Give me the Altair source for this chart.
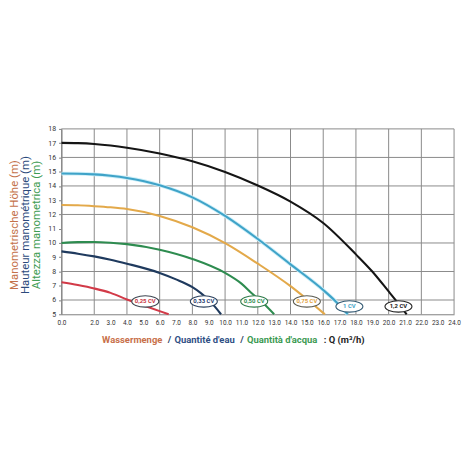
import altair as alt
import pandas as pd

# ---- data ----
series_names = ["0,25 CV", "0,33 CV", "0,50 CV", "0,75 CV", "1 CV", "1,2 CV"]
line_colors = ["#d23a48", "#1f3a5e", "#2e8c50", "#e3a94a", "#3fa3c8", "#151515"]
label_text_colors = ["#c8323f", "#1f3a6e", "#2e8c50", "#e0a040", "#3fa3c8", "#151515"]
label_stroke_colors = ["#3d4550", "#2a3f5c", "#2e7a48", "#5a5a50", "#2f5670", "#202020"]

q_025 = [0.0, 1.0, 2.0, 3.0, 4.0, 5.0, 6.0, 6.55]
h_025 = [7.25, 7.05, 6.81, 6.5, 6.04, 5.63, 5.22, 5.0]

q_033 = [0.0, 1.0, 2.0, 3.0, 4.0, 6.0, 7.0, 8.0, 8.5, 9.0, 9.4, 9.75]
h_033 = [9.41, 9.25, 9.06, 8.83, 8.55, 7.9, 7.45, 6.9, 6.5, 6.0, 5.5, 5.0]

q_050 = [0.0, 1.0, 2.0, 3.0, 4.0, 6.0, 8.0, 10.0, 11.0, 11.7, 12.4, 13.0]
h_050 = [10.0, 10.06, 10.07, 10.02, 9.92, 9.53, 8.88, 7.9, 7.15, 6.4, 5.7, 5.0]

q_075 = [0.0, 1.0, 2.0, 3.0, 4.0, 6.0, 8.0, 10.0, 12.0, 14.0, 15.5, 16.1]
h_075 = [12.66, 12.64, 12.58, 12.5, 12.38, 11.9, 11.1, 9.99, 8.55, 6.97, 5.58, 5.0]

q_1 = [0.0, 1.0, 2.0, 3.0, 4.0, 6.0, 8.0, 10.0, 12.0, 14.0, 16.0, 16.75, 17.5]
h_1 = [14.87, 14.86, 14.81, 14.71, 14.56, 14.05, 13.2, 11.9, 10.28, 8.5, 6.7, 5.92, 5.0]

q_12 = [0.0, 1.0, 2.0, 3.0, 4.0, 6.0, 8.0, 10.0, 12.0, 14.0, 16.0, 18.0, 19.0, 20.0, 20.6, 21.1]
h_12 = [17.02, 17.0, 16.94, 16.83, 16.68, 16.28, 15.73, 14.98, 14.03, 12.9, 11.4, 9.2, 8.0, 6.6,
        5.75, 5.0]

label_q = [5.12, 8.7, 11.78, 15.0, 17.6, 20.6]
label_h = [5.9, 5.9, 5.9, 5.9, 5.55, 5.55]

x_tick_labels = [0, 2, 3, 4, 5, 6, 7, 8, 9, 10, 11, 12, 13, 14, 15, 16, 17, 18,
                 19, 20, 21, 22, 23, 24]
y_tick_labels = list(range(5, 19))
x_grid = list(range(0, 25, 2))
y_grid = list(range(6, 19, 2))

y_titles = ["Manometrische Höhe (m)", "Hauteur manométrique (m)", "Altezza manometrica (m)"]
y_title_colors = ["#c4714a", "#2b4a7c", "#3e9c52"]
x_title_parts = ["Wassermenge", "/", "Quantité d'eau", "/", "Quantità d'acqua", ":", "Q (m³/h)"]
x_title_colors = ["#c8704a", "#2b3f66", "#2f4f85", "#2b3f66", "#3c9a52", "#222222", "#222222"]

# ---- layout (pixels, not data) ----
W, H = 396, 187
FONT = "Roboto"
y_title_x = [-47, -36, -25]

# approximate Roboto glyph widths (em) to lay the multicolour x title out in a row
_cw = {"W": .88, "Q": .69, "a": .54, "s": .5, "e": .53, "r": .34, "m": .88, "n": .55,
       "g": .56, "u": .55, "t": .33, "i": .24, "é": .53, "à": .54, "d": .56, "'": .16,
       "c": .52, "q": .56, "h": .55, "(": .34, ")": .35, "³": .36, "/": .41, ":": .24,
       " ": .25}
XT_SIZE = 9.5
XT_BOLD = 1.06
def _w(s):
    return sum(_cw.get(ch, .55) for ch in s) * XT_SIZE * XT_BOLD
gap = _w(" ")
widths = [_w(s) for s in x_title_parts]
total = sum(widths) + gap * (len(widths) - 1)
start = 236.5 - 62 - total / 2
x_title_starts = []
cur = start
for wd in widths:
    x_title_starts.append(cur)
    cur += wd + gap

curves = [(q_025, h_025), (q_033, h_033), (q_050, h_050),
          (q_075, h_075), (q_1, h_1), (q_12, h_12)]
rows = []
for name, (qs, hs) in zip(series_names, curves):
    for i, (q, h) in enumerate(zip(qs, hs)):
        rows.append({"serie": name, "q": q, "h": h, "i": i})
df_lines = pd.DataFrame(rows)

df_labels = pd.DataFrame({"serie": series_names, "q": label_q, "h": label_h})
df_xg = pd.DataFrame({"q": x_grid})
df_yg = pd.DataFrame({"h": y_grid})

xscale = alt.Scale(domain=[0, 24], nice=False, zero=False)
yscale = alt.Scale(domain=[5, 18], nice=False, zero=False)

x_axis = alt.Axis(values=x_tick_labels, format=".1f", grid=False, ticks=False,
                  labelFontSize=6.5, labelColor="#333", labelFont=FONT,
                  domainColor="#808080", labelPadding=5, labelFlush=False,
                  labelOverlap=False, title="")
y_axis = alt.Axis(values=y_tick_labels, format="d", grid=False, ticks=True,
                  tickSize=3, tickColor="#808080", labelFontSize=7,
                  labelColor="#333", labelFont=FONT, domainColor="#808080",
                  labelPadding=3, labelOverlap=False, labelFlush=False, title="")

def X():
    return alt.X("q:Q", scale=xscale, axis=x_axis, title="")

def Y():
    return alt.Y("h:Q", scale=yscale, axis=y_axis, title="")

base_axes = alt.Chart(df_lines).mark_line(opacity=0).encode(x=X(), y=Y())

grid_x = alt.Chart(df_xg).mark_rule(color="#8a8a8a", strokeWidth=1).encode(x=X())
grid_y = alt.Chart(df_yg).mark_rule(color="#8a8a8a", strokeWidth=1).encode(y=Y())

color_scale = alt.Scale(domain=series_names, range=line_colors)

glow = alt.Chart(df_lines[df_lines.serie == "1 CV"]).mark_line(
    interpolate="monotone", strokeWidth=3.8, color="#cbeef8").encode(
    x=X(), y=Y(), order="i:Q")

lines = alt.Chart(df_lines).mark_line(interpolate="monotone", strokeWidth=2.1).encode(
    x=X(), y=Y(),
    color=alt.Color("serie:N", scale=color_scale, legend=None),
    order="i:Q")

ellipse_path = "M-1,0 A1,0.42 0 1,1 1,0 A1,0.42 0 1,1 -1,0 Z"
ellipses = alt.Chart(df_labels).mark_point(
    shape=ellipse_path, size=740, fill="white", fillOpacity=1, opacity=1,
    strokeWidth=1.1, filled=False).encode(
    x=X(), y=Y(),
    stroke=alt.Stroke("serie:N", scale=alt.Scale(domain=series_names, range=label_stroke_colors),
                      legend=None))

label_texts = alt.Chart(df_labels).mark_text(
    fontSize=6, fontWeight="bold", font=FONT, baseline="middle", align="center").encode(
    x=X(), y=Y(), text="serie:N",
    color=alt.Color("serie:N", scale=alt.Scale(domain=series_names, range=label_text_colors),
                    legend=None))

df_yt = pd.DataFrame({"t": y_titles, "c": y_title_colors, "px": y_title_x})
y_title_layer = alt.Chart(df_yt).mark_text(
    angle=270, fontSize=11.5, font=FONT, baseline="middle", align="center").encode(
    x=alt.X("px:Q", scale=None), y=alt.value(97), text="t:N",
    color=alt.Color("c:N", scale=None))

df_xt = pd.DataFrame({"t": x_title_parts, "c": x_title_colors, "px": x_title_starts})
x_title_layer = alt.Chart(df_xt).mark_text(
    fontSize=XT_SIZE, font=FONT, fontWeight="bold", baseline="alphabetic", align="left").encode(
    x=alt.X("px:Q", scale=None), y=alt.value(216), text="t:N",
    color=alt.Color("c:N", scale=None))

chart = alt.layer(
    base_axes, grid_x, grid_y, glow, lines, ellipses, label_texts, y_title_layer, x_title_layer
).resolve_scale(color="independent").properties(
    width=W, height=H,
    autosize=alt.AutoSizeParams(type="none"),
    padding={"left": 54, "top": 120, "right": 8, "bottom": 140},
    background="white",
).configure_view(strokeWidth=0).configure_axis(labelOverlap=False)

chart.save("out.html", embed_options={"renderer": "svg", "actions": False})
